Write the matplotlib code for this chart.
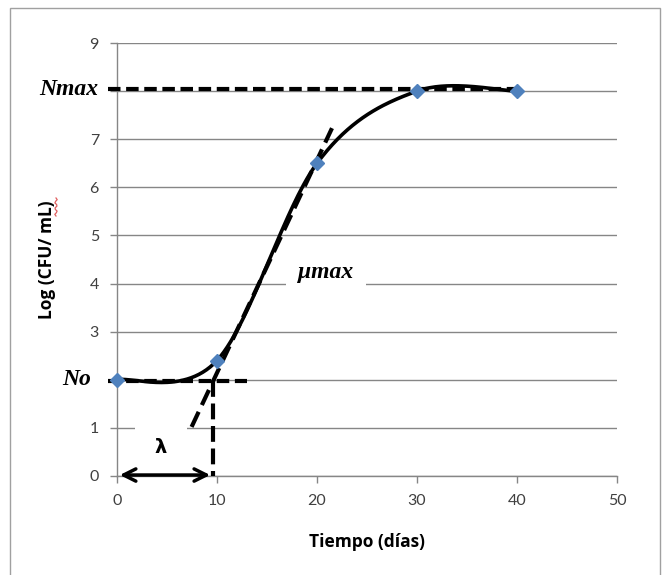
import numpy as np
import matplotlib
matplotlib.use("Agg")
import matplotlib.pyplot as plt
from matplotlib.patches import Rectangle
from matplotlib.lines import Line2D

# data points
tiempo = [0, 10, 20, 30, 40]
log_cfu = [2.0, 2.4, 6.5, 8.0, 8.0]

x_ticks = [0, 10, 20, 30, 40, 50]
y_ticks = [0, 1, 2, 3, 4, 5, 6, 7, 8, 9]
y_ticklabels = ['0', '1', '', '3', '4', '5', '6', '7', '', '9']

n_max = 8.04
n_o = 1.97
lag = 9.6
tangent_x = [7.46, 21.5]
tangent_y = [1.02, 7.23]


def excel_smooth(xs, ys, n=60):
    # bezier smoothing similar to Excel's "smoothed line"
    p = np.column_stack([xs, ys]).astype(float)
    out = []
    for i in range(len(p) - 1):
        p0 = p[i - 1] if i > 0 else p[i]
        p1, p2 = p[i], p[i + 1]
        p3 = p[i + 2] if i + 2 < len(p) else p[i + 1]
        c1 = p1 + (p2 - p0) / 6
        c2 = p2 - (p3 - p1) / 6
        t = np.linspace(0, 1, n)[:, None]
        seg = ((1 - t)**3 * p1 + 3 * (1 - t)**2 * t * c1
               + 3 * (1 - t) * t**2 * c2 + t**3 * p2)
        out.append(seg)
    out = np.vstack(out)
    return out[:, 0], out[:, 1]


fig = plt.figure(figsize=(6.68, 5.75), dpi=100)
ax = fig.add_axes([0.1751, 0.1722, 0.7486, 0.7530])

tick_font = dict(family='Lato', size=11.5, color='#404040')

ax.set_xlim(0, 50)
ax.set_ylim(0, 9)
ax.set_xticks(x_ticks)
ax.set_xticklabels([str(v) for v in x_ticks], **tick_font)
ax.set_yticks(y_ticks)
ax.set_yticklabels(y_ticklabels, **tick_font)
ax.tick_params(direction='out', length=5, color='#868686', width=1, pad=8)
ax.grid(axis='y', color='#868686', lw=1)
ax.set_axisbelow(True)
for s in ['top', 'right']:
    ax.spines[s].set_visible(False)
for s in ['left', 'bottom']:
    ax.spines[s].set_color('#868686')
    ax.spines[s].set_linewidth(1)

dash = dict(color='black', lw=3, ls=(0, (3.0, 1.35)), clip_on=False, zorder=3)
ax.plot([-0.9, 40], [n_max, n_max], **dash)
ax.plot([-0.9, 13], [n_o, n_o], **dash)
ax.plot([lag, lag], [n_o, 0], color='black', lw=3, ls=(0, (3.8, 1.6)), zorder=3)
ax.plot(tangent_x, tangent_y, color='black', lw=3, ls=(0, (4.0, 1.8)), zorder=3)

sx, sy = excel_smooth(tiempo, log_cfu)
ax.plot(sx, sy, color='black', lw=2.6, zorder=4, clip_on=False)
ax.plot(tiempo, log_cfu, ls='none', marker='D', ms=7, color='#4F81BD',
        zorder=5, clip_on=False)

ax.annotate('', xy=(0, 0.02), xytext=(lag, 0.02),
            arrowprops=dict(arrowstyle='<->', lw=2.5, color='black',
                            mutation_scale=22), zorder=6, annotation_clip=False)

serif = dict(family='Liberation Serif', style='italic', weight='bold', size=17)
ax.text(-1.9, n_max, 'Nmax', ha='right', va='center', clip_on=False, **serif)
ax.text(-2.6, 2.0, 'No', ha='right', va='center', clip_on=False, **serif)
ax.text(20.9, 4.22, 'μmax', ha='center', va='center', zorder=2,
        bbox=dict(facecolor='white', edgecolor='none', pad=9), **serif)
ax.text(4.4, 0.6, 'λ', ha='center', va='center', zorder=2,
        family='DejaVu Sans', weight='bold', size=14,
        bbox=dict(facecolor='white', edgecolor='none', pad=14))

ax.set_xlabel('Tiempo (días)', family='Open Sans', weight='bold', size=12.5,
              labelpad=18)
ax.set_ylabel('Log (CFU/ mL)', family='Open Sans', weight='bold', size=12.5)
ax.yaxis.set_label_coords(-0.122, 0.5)

# spell-check squiggle under "mL"
wy = np.linspace(198, 216, 12)
wx = 56 + 1.2 * np.sin(np.linspace(0, 6 * np.pi, 12))
fig.lines.append(Line2D(wx / 668, 1 - wy / 575, transform=fig.transFigure,
                        color='#e06060', lw=0.9))

fig.patches.append(Rectangle((10 / 668, -0.01), 650 / 668, 1 - 8 / 575 + 0.01,
                             transform=fig.transFigure, fill=False,
                             edgecolor='#a0a0a0', lw=1))

fig.savefig('out.png', dpi=100)
